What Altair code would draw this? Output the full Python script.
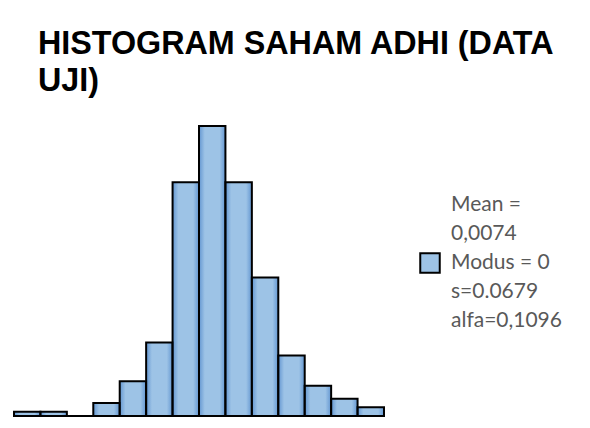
import altair as alt
import pandas as pd

# Histogram bins (return values) and frequencies
bin_start = [-0.35, -0.30, -0.25, -0.20, -0.15, -0.10, -0.05, 0.00, 0.05, 0.10, 0.15, 0.20, 0.25, 0.30]
bin_end = [-0.30, -0.25, -0.20, -0.15, -0.10, -0.05, 0.00, 0.05, 0.10, 0.15, 0.20, 0.25, 0.30, 0.35]
counts = [1, 1, 0, 3, 8, 17, 54, 67, 54, 32, 14, 7, 4, 2]
legend_lines = ["Mean =", "0,0074", "Modus = 0", "s=0.0679", "alfa=0,1096"]
title_lines = ["HISTOGRAM SAHAM ADHI (DATA", "UJI)"]

df = pd.DataFrame({
    "start": bin_start,
    "end": bin_end,
    "count": counts,
    "series": ["|".join(legend_lines)] * len(counts),
})

x_enc = alt.X("start:Q", scale=alt.Scale(domain=[-0.35, 0.35], nice=False, zero=False), axis=None)
y_enc = alt.Y("count:Q", scale=alt.Scale(domain=[0, 67], nice=False), axis=None)

base = alt.Chart(df)

bars = base.mark_bar(strokeWidth=0).encode(
    x=x_enc,
    x2="end:Q",
    y=y_enc,
    y2=alt.datum(0),
    color=alt.Color(
        "series:N",
        scale=alt.Scale(range=["#9dc3e6"]),
        legend=alt.Legend(
            orient="none",
            legendX=405,
            legendY=126,
            title=None,
            symbolType="square",
            symbolSize=380,
            symbolStrokeColor="black",
            symbolStrokeWidth=2,
            symbolOpacity=1,
            labelFont="Lato",
            labelFontSize=21,
            labelColor="#595959",
            labelLimit=0,
            labelOffset=10,
            labelExpr="split(datum.label, '|')",
        ),
    ),
)

shade = base.mark_bar(
    fill=alt.Gradient(
        gradient="linear",
        x1=0, x2=1, y1=0, y2=0,
        stops=[
            alt.GradientStop(color="rgba(60,120,195,0.6)", offset=0),
            alt.GradientStop(color="rgba(60,120,195,0.0)", offset=0.22),
            alt.GradientStop(color="rgba(60,120,195,0.0)", offset=0.78),
            alt.GradientStop(color="rgba(60,120,195,0.6)", offset=1),
        ],
    ),
    stroke="black",
    strokeWidth=2,
).encode(x=x_enc, x2="end:Q", y=y_enc, y2=alt.datum(0))

baseline = base.mark_rule(color="black", strokeWidth=2).encode(
    x=alt.X("start:Q", scale=alt.Scale(domain=[-0.35, 0.35], nice=False, zero=False), axis=None),
    x2="end:Q",
    y=alt.Y("zero:Q", scale=alt.Scale(domain=[0, 67], nice=False), axis=None),
).transform_calculate(zero="0")

chart = alt.layer(bars, shade, baseline).properties(
    width=370,
    height=290,
    padding={"left": 6, "top": 118, "right": 198, "bottom": 4},
    autosize=alt.AutoSizeParams(type="none"),
    title=alt.TitleParams(
        text=title_lines,
        font="Liberation Sans",
        fontWeight="bold",
        fontSize=32.3,
        lineHeight=37,
        anchor="start",
        color="black",
        dx=25,
        offset=28,
    ),
).configure(
    background="white",
    view=alt.ViewConfig(stroke="transparent"),
    style={"guide-label": {"lineHeight": 29, "dy": -58}},
)

chart.save("out.html", embed_options={"renderer": "svg", "actions": False})
